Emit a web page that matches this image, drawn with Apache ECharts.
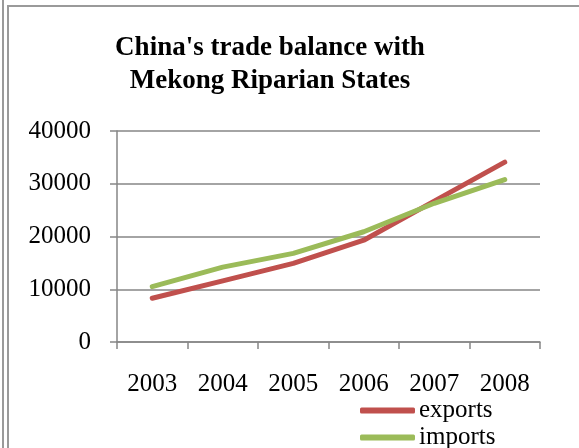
<!DOCTYPE html>
<html>
<head>
<meta charset="utf-8">
<script src="https://cdn.jsdelivr.net/npm/echarts@6/dist/echarts.min.js"></script>
<style>
html,body{margin:0;padding:0;background:#fff;}
#c{width:579px;height:448px;}
</style>
</head>
<body>
<div id="c"></div>
<script>
var years = ['2003', '2004', '2005', '2006', '2007', '2008'];
var exportsData = [8300, 11600, 14900, 19300, 26700, 34100];
var importsData = [10500, 14200, 16800, 20900, 26300, 30800];
var yTicks = {min: 0, max: 40000, interval: 10000};

var FONT = '"Liberation Serif", "Times New Roman", serif';
var legendBase = {
  orient: 'vertical',
  left: 360,
  itemWidth: 55,
  itemHeight: 6,
  icon: 'roundRect',
  padding: 0,
  textStyle: {fontFamily: FONT, fontSize: 25, color: '#000', padding: [0, 0, 0, -1]}
};
var chart = echarts.init(document.getElementById('c'));
chart.setOption({
  animation: false,
  backgroundColor: '#fff',
  graphic: [
    {type: 'line', shape: {x1: 3, y1: 0, x2: 3, y2: 448}, style: {stroke: '#9a9a9a', lineWidth: 2}},
    {type: 'rect', shape: {x: 8, y: 6, width: 600, height: 460}, style: {fill: 'none', stroke: '#9a9a9a', lineWidth: 2}}
  ],
  title: {
    text: "China's trade balance with\nMekong Riparian States",
    left: 265,
    top: 27,
    textAlign: 'center',
    textStyle: {fontFamily: FONT, fontSize: 27, fontWeight: 'bold', color: '#000', lineHeight: 33}
  },
  legend: [
    Object.assign({}, legendBase, {top: 398, data: ['exports']}),
    Object.assign({}, legendBase, {top: 425, data: ['imports']})
  ],
  grid: {left: 117, right: 39, top: 131, bottom: 106, containLabel: false},
  xAxis: {
    type: 'category',
    data: years,
    boundaryGap: true,
    axisLine: {show: true, lineStyle: {color: '#868686', width: 1.5}},
    axisTick: {show: true, length: 7, interval: 0, lineStyle: {color: '#868686', width: 1.5}},
    axisLabel: {fontFamily: FONT, fontSize: 25, color: '#000', margin: 30, interval: 0}
  },
  yAxis: {
    type: 'value',
    min: yTicks.min,
    max: yTicks.max,
    interval: yTicks.interval,
    axisLine: {show: true, lineStyle: {color: '#868686', width: 1.5}},
    axisTick: {show: true, length: 7, lineStyle: {color: '#868686', width: 1.5}},
    axisLabel: {fontFamily: FONT, fontSize: 25, color: '#000', margin: 26, formatter: function (v) { return String(v); }},
    splitLine: {show: true, lineStyle: {color: '#868686', width: 1.5}}
  },
  series: [
    {
      name: 'exports', type: 'line', data: exportsData, showSymbol: false, symbol: 'none',
      itemStyle: {color: '#C0504D'},
      lineStyle: {color: '#C0504D', width: 5, cap: 'round', join: 'round'}
    },
    {
      name: 'imports', type: 'line', data: importsData, showSymbol: false, symbol: 'none',
      itemStyle: {color: '#9BBB59'},
      lineStyle: {color: '#9BBB59', width: 5, cap: 'round', join: 'round'}
    }
  ]
});
</script>
</body>
</html>
